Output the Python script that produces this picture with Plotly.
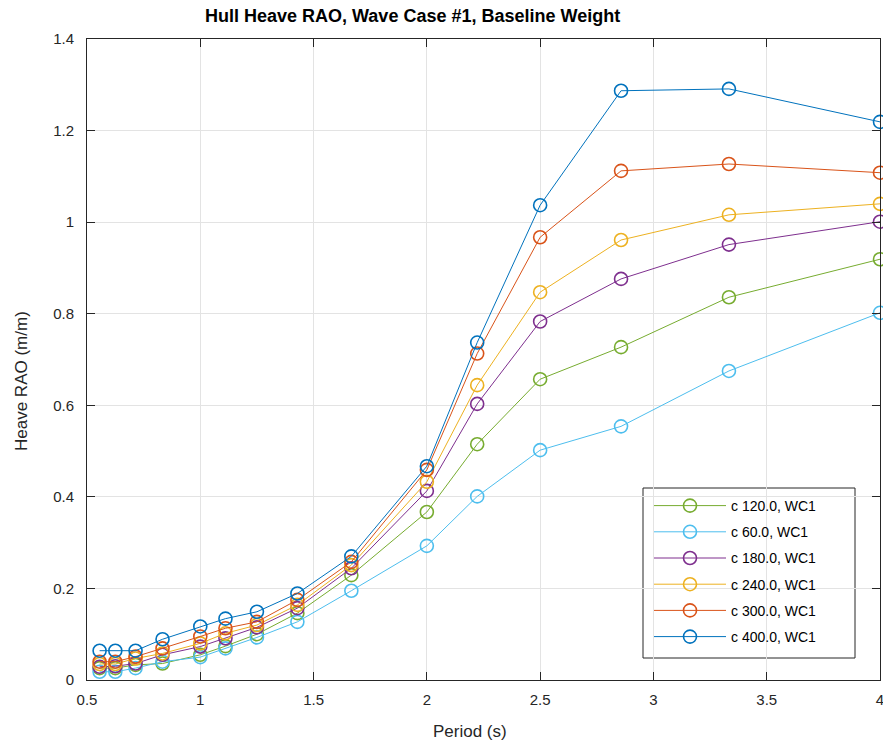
import plotly.graph_objects as go

periods = [0.5556, 0.625, 0.7143, 0.8333, 1.0, 1.1111, 1.25, 1.4286, 1.6667, 2.0, 2.2222, 2.5, 2.8571, 3.3333, 4.0]

c120 = [0.026, 0.026, 0.033, 0.036, 0.055, 0.074, 0.100, 0.146, 0.229, 0.367, 0.515, 0.657, 0.727, 0.836, 0.919]
c60 = [0.018, 0.018, 0.026, 0.040, 0.050, 0.069, 0.093, 0.127, 0.195, 0.293, 0.401, 0.502, 0.554, 0.675, 0.802]
c180 = [0.029, 0.030, 0.036, 0.055, 0.073, 0.091, 0.115, 0.157, 0.244, 0.413, 0.603, 0.783, 0.876, 0.951, 1.001]
c240 = [0.035, 0.035, 0.047, 0.058, 0.080, 0.102, 0.120, 0.164, 0.251, 0.433, 0.644, 0.847, 0.961, 1.016, 1.040]
c300 = [0.040, 0.040, 0.051, 0.069, 0.095, 0.113, 0.127, 0.175, 0.258, 0.459, 0.713, 0.967, 1.112, 1.127, 1.108]
c400 = [0.064, 0.064, 0.064, 0.089, 0.117, 0.134, 0.149, 0.189, 0.270, 0.467, 0.737, 1.037, 1.287, 1.291, 1.219]

series_names = ["c 120.0, WC1", "c 60.0, WC1", "c 180.0, WC1", "c 240.0, WC1", "c 300.0, WC1", "c 400.0, WC1"]
series_values = [c120, c60, c180, c240, c300, c400]
colors = ["#77AC30", "#4DBEEE", "#7E2F8E", "#EDB120", "#D95319", "#0072BD"]

x_ticks = [0.5, 1, 1.5, 2, 2.5, 3, 3.5, 4]
x_tick_labels = ["0.5", "1", "1.5", "2", "2.5", "3", "3.5", "4"]
y_ticks = [0, 0.2, 0.4, 0.6, 0.8, 1.0, 1.2, 1.4]
y_tick_labels = ["0", "0.2", "0.4", "0.6", "0.8", "1", "1.2", "1.4"]

FONT = "Liberation Sans, Arial, sans-serif"

fig = go.Figure()
for i, (name, vals, col) in enumerate(zip(series_names, series_values, colors)):
    fig.add_trace(go.Scatter(
        x=periods, y=vals, name=name, mode="lines+markers",
        line=dict(color=col, width=1),
        marker=dict(symbol="circle-open", size=13, color=col, line=dict(width=1.6, color=col)),
        cliponaxis=False, legendgroup=f"g{i}",
    ))

W, H = 883, 745
L, R, T, B = 87, 3, 39, 65
PW, PH = W - L - R, H - T - B

def px_x(p):
    return (p - L) / PW

def px_y(p):
    return (H - B - p) / PH

axis_common = dict(
    showline=True, linecolor="#262626", linewidth=1, mirror="ticks",
    ticks="inside", ticklen=8, tickcolor="#262626", tickwidth=1,
    showgrid=True, gridcolor="#e3e3e3", gridwidth=1, zeroline=False,
    tickfont=dict(family=FONT, size=15, color="#262626"),
    ticklabeloverflow="allow",
)

fig.update_layout(
    width=W, height=H,
    margin=dict(l=L, r=R, t=T, b=B, autoexpand=False),
    paper_bgcolor="white", plot_bgcolor="white",
    font=dict(family=FONT, color="#262626"),
    xaxis=dict(range=[0.5, 4], tickvals=x_ticks, ticktext=x_tick_labels, ticklabelstandoff=6, **axis_common),
    yaxis=dict(range=[0, 1.4], tickvals=y_ticks, ticktext=y_tick_labels, ticklabelstandoff=9, **axis_common),
    legend=dict(
        x=px_x(649), y=px_y(490), xanchor="left", yanchor="top",
        bgcolor="rgba(0,0,0,0)", borderwidth=0,
        font=dict(family=FONT, size=14, color="#000000"),
        itemwidth=72, tracegroupgap=5, traceorder="grouped",
    ),
    showlegend=True,
    shapes=[
        dict(type="rect", xref="paper", yref="paper", layer="between",
             x0=px_x(643), x1=px_x(855), y0=px_y(658), y1=px_y(488),
             fillcolor="white", line=dict(color="#262626", width=1)),
    ],
    annotations=[
        dict(text="<b>Hull Heave RAO, Wave Case #1, Baseline Weight</b>", xref="paper", yref="paper",
             x=px_x(412), y=px_y(16), xanchor="center", yanchor="middle",
             showarrow=False, font=dict(family=FONT, size=18, color="#000000")),
        dict(text="Period (s)", xref="paper", yref="paper",
             x=px_x(470), y=px_y(731), xanchor="center", yanchor="middle",
             showarrow=False, font=dict(family=FONT, size=17, color="#262626")),
        dict(text="Heave RAO (m/m)", xref="paper", yref="paper", textangle=-90,
             x=px_x(22), y=px_y(381), xanchor="center", yanchor="middle",
             showarrow=False, font=dict(family=FONT, size=17, color="#262626")),
    ],
)

fig.write_html("out.html")
